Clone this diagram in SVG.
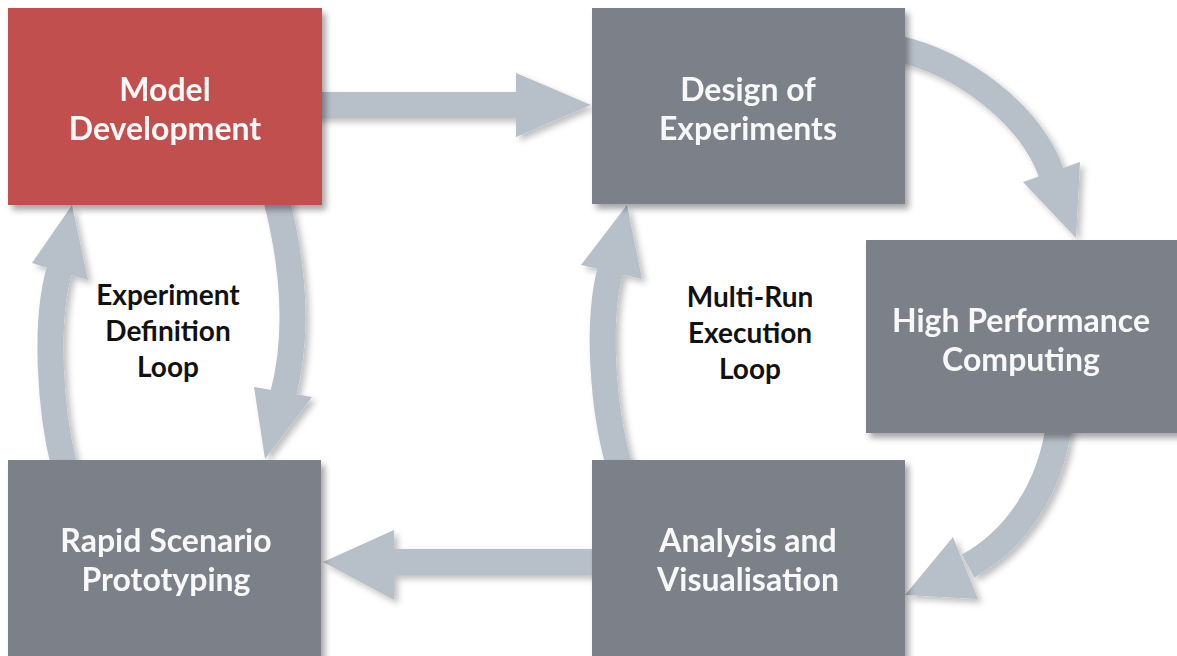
<svg xmlns="http://www.w3.org/2000/svg" width="1177" height="656" viewBox="0 0 1177 656">
<defs>
<filter id="sh" x="-10%" y="-10%" width="130%" height="130%">
<feDropShadow dx="4" dy="5" stdDeviation="3" flood-color="#000" flood-opacity="0.35"/>
</filter>
<filter id="ash" x="-20%" y="-20%" width="140%" height="140%">
<feDropShadow dx="4" dy="4" stdDeviation="3" flood-color="#000" flood-opacity="0.25"/>
</filter>
</defs>
<style>
.box{fill:#7b8088}
.red{fill:#c0504d}
.bl{font-family:Lato,"Open Sans","Liberation Sans",sans-serif;font-weight:bold;font-size:32px;fill:#f8f8f8;text-anchor:middle}
.ll{font-family:Lato,"Open Sans","Liberation Sans",sans-serif;font-weight:bold;font-size:28px;fill:#111111;text-anchor:middle}
.shaft{fill:none;stroke:#b7bfc9;stroke-width:26}
.head{fill:#b7bfc9}
</style>
<rect width="1177" height="656" fill="#ffffff"/>
<g id="connectors" filter="url(#ash)">
<path class="shaft" d="M 310 105 L 520 105"/>
<polygon class="head" points="516,73 591,105 516,137"/>
<path class="shaft" d="M 895 48 C 960 62, 1030 112, 1052 175"/>
<polygon class="head" points="1023,182 1080,162 1076,238"/>
<path class="shaft" d="M 1059 425 C 1050 490, 1015 540, 968 566"/>
<polygon class="head" points="953,537 978,599 905,595"/>
<path class="shaft" d="M 600 562 L 390 562"/>
<polygon class="head" points="394,530 323,562 394,600"/>
<path class="shaft" d="M 276 198 C 292 260, 300 330, 283 395"/>
<polygon class="head" points="254,387 312,397 265,459"/>
<path class="shaft" d="M 64 465 C 50 410, 44 320, 60 268"/>
<polygon class="head" points="32,263 72,205 88,280"/>
<path class="shaft" d="M 619 465 C 603 410, 596 320, 611 268"/>
<polygon class="head" points="581,265 627,205 642,279"/>
</g>
<g id="model-development" filter="url(#sh)">
<rect class="red" x="8" y="8" width="314" height="197"/>
<text class="bl" x="165" y="101">Model</text>
<text class="bl" x="165" y="140">Development</text>
</g>
<g id="design-of-experiments" filter="url(#sh)">
<rect class="box" x="592" y="8" width="313" height="196"/>
<text class="bl" x="748" y="101">Design of</text>
<text class="bl" x="748" y="140">Experiments</text>
</g>
<g id="high-performance-computing" filter="url(#sh)">
<rect class="box" x="866" y="240" width="315" height="193"/>
<text class="bl" x="1021" y="332">High Performance</text>
<text class="bl" x="1021" y="371">Computing</text>
</g>
<g id="rapid-scenario-prototyping" filter="url(#sh)">
<rect class="box" x="8" y="460" width="313" height="200"/>
<text class="bl" x="166" y="552">Rapid Scenario</text>
<text class="bl" x="166" y="591">Prototyping</text>
</g>
<g id="analysis-and-visualisation" filter="url(#sh)">
<rect class="box" x="592" y="460" width="313" height="200"/>
<text class="bl" x="748" y="552">Analysis and</text>
<text class="bl" x="748" y="591">Visualisation</text>
</g>
<g id="experiment-definition-loop">
<text class="ll" x="168" y="305">Experiment</text>
<text class="ll" x="168" y="341">Definition</text>
<text class="ll" x="168" y="377">Loop</text>
</g>
<g id="multi-run-execution-loop">
<text class="ll" x="750" y="307">Multi-Run</text>
<text class="ll" x="750" y="343">Execution</text>
<text class="ll" x="750" y="379">Loop</text>
</g>
</svg>
